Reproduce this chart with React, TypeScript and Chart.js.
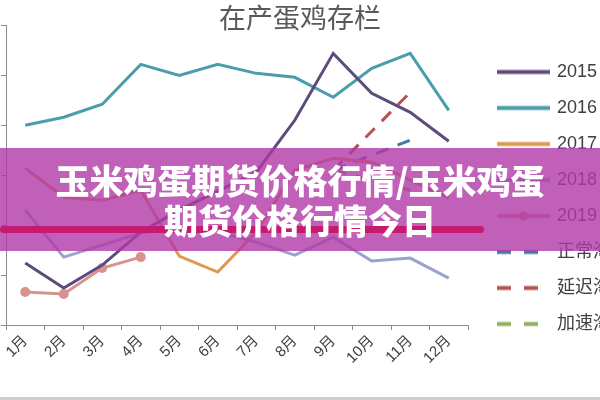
import { useEffect, useRef } from 'react';
import { Chart, registerables } from 'chart.js';

Chart.register(...registerables);

const chartTitle = '在产蛋鸡存栏';
const months = ['1月', '2月', '3月', '4月', '5月', '6月', '7月', '8月', '9月', '10月', '11月', '12月'];
const seriesNames = ['2015', '2016', '2017', '2018', '2019', '正常淘汰', '延迟淘汰', '加速淘汰'];
const values2015 = [1.24, 0.74, 1.2, 1.86, 2.3, 2.68, 3.06, 4.1, 5.44, 4.64, 4.26, 3.68];
const values2016 = [4.0, 4.16, 4.42, 5.22, 5.0, 5.22, 5.04, 4.96, 4.56, 5.14, 5.44, 4.3];
const values2017 = [3.14, 2.56, 2.5, 2.7, 1.38, 1.06, 1.86, 3.1, 3.34, 3.26, 2.9, 2.54];
const values2018 = [2.3, 1.36, 1.6, 1.84, 2.0, 1.86, 1.66, 1.4, 1.76, 1.28, 1.34, 0.94];
const values2019 = [0.66, 0.62, 1.14, 1.36, null, null, null, null, null, null, null, null];
const valuesNormal = [null, null, null, null, null, null, null, null, 3.1, 3.4, 3.7, null];
const valuesDelayed = [null, null, null, null, null, null, null, null, 3.1, 3.88, 4.66, null];
const valuesFaster = [null, null, null, null, null, null, null, null, 3.1, 2.9, 2.7, null];
const yMin = 0;
const yMax = 6;
const yStep = 1;
const bannerLines = ['玉米鸡蛋期货价格行情/玉米鸡蛋', '期货价格行情今日'];

const colors = ['#5e4a7d', '#4a9eac', '#e0974e', '#97a3cd', '#d8928f', '#4a75a5', '#b5524f', '#93b05c'];
const dashedFlags = [false, false, false, false, false, true, true, true];

const FONT = '"Liberation Sans", "Noto Sans CJK SC", sans-serif';
const CJK = '"Noto Sans CJK SC", sans-serif';

function makeSymbol(color: string, dashed: boolean, marker: boolean) {
  const c = document.createElement('canvas');
  c.width = 53;
  c.height = 11;
  const g = c.getContext('2d')!;
  g.strokeStyle = color;
  g.lineWidth = 4;
  if (dashed) g.setLineDash([14, 13]);
  g.beginPath();
  g.moveTo(0, 5.5);
  g.lineTo(53, 5.5);
  g.stroke();
  if (marker) {
    g.setLineDash([]);
    g.fillStyle = color;
    g.beginPath();
    g.arc(26.5, 5.5, 4.5, 0, Math.PI * 2);
    g.fill();
  }
  return c;
}

export default function App() {
  const ref = useRef<HTMLCanvasElement>(null);

  useEffect(() => {
    const seriesValues = [values2015, values2016, values2017, values2018, values2019, valuesNormal, valuesDelayed, valuesFaster];
    const symbols = seriesNames.map((_, i) => makeSymbol(colors[i], dashedFlags[i], i === 4));
    const datasets = seriesNames.map((name, i) => ({
      label: name,
      data: seriesValues[i],
      borderColor: colors[i],
      backgroundColor: colors[i],
      borderWidth: 3,
      borderDash: dashedFlags[i] ? [13, 10] : [],
      pointRadius: i === 4 ? 5 : 0,
      pointBackgroundColor: colors[i],
      pointBorderWidth: 0,
      tension: 0,
      fill: false,
      spanGaps: false,
    }));

    const chart = new Chart(ref.current!, {
      type: 'line',
      data: { labels: months, datasets },
      options: {
        responsive: false,
        animation: false,
        devicePixelRatio: 1,
        layout: { padding: { left: 0, right: 38, top: 0, bottom: 0 } },
        plugins: {
          title: {
            display: true,
            text: chartTitle,
            color: '#595959',
            font: { family: CJK, size: 27, weight: 'normal', lineHeight: 1.2 },
            padding: { top: 2, bottom: -9 },
          },
          legend: {
            position: 'right',
            align: 'start',
            maxWidth: 119,
            title: { display: true, text: ' ', font: { size: 10, lineHeight: 1.2 }, padding: 16.5 },
            labels: {
              usePointStyle: true,
              pointStyleWidth: 49,
              padding: 18,
              color: '#404040',
              font: { family: FONT, size: 18 },
              generateLabels: (ch: any) => {
                const items = (Chart.defaults.plugins.legend.labels as any).generateLabels(ch);
                return items.map((it: any, i: number) => ({ ...it, pointStyle: symbols[i] }));
              },
            },
          },
          tooltip: { enabled: false },
        },
        scales: {
          x: {
            type: 'category',
            offset: true,
            grid: { offset: true, drawOnChartArea: false, drawTicks: true, tickLength: 5, tickColor: '#8c8c8c' },
            border: { color: '#8c8c8c', width: 1 },
            ticks: { autoSkip: false, maxRotation: 45, minRotation: 45, color: '#404040', font: { family: FONT, size: 15 }, padding: 2 },
            afterFit: (s: any) => { s.height = 75; },
          },
          y: {
            position: 'left',
            min: yMin,
            max: yMax,
            ticks: { stepSize: yStep, display: false },
            grid: { drawOnChartArea: false, drawTicks: true, tickLength: 5, tickColor: '#8c8c8c' },
            border: { color: '#8c8c8c', width: 1 },
            afterFit: (s: any) => { s.width = 6; },
          },
          yR: {
            type: 'linear',
            position: 'right',
            display: true,
            grid: { display: false },
            border: { display: false },
            ticks: { display: false },
            afterFit: (s: any) => { s.width = 13; },
          },
        },
      } as any,
    });
    return () => chart.destroy();
  }, []);

  return (
    <div style={{ position: 'fixed', left: 0, top: 0, width: 600, height: 400, overflow: 'hidden', background: '#ffffff' }}>
      <canvas ref={ref} width={638} height={400} style={{ position: 'absolute', left: 0, top: 0 }} />
      <div style={{ position: 'absolute', left: 0, top: 148, width: 600, height: 103, background: 'rgba(176,56,166,0.8)' }} />
      <div style={{ position: 'absolute', left: 0, top: 226, width: 484, height: 7, borderRadius: 4, background: '#c51a6f' }} />
      {bannerLines.map((t, i) => (
        <div
          key={i}
          style={{
            position: 'absolute', left: 0, top: 160 + i * 40, width: 600, height: 40, lineHeight: '40px',
            textAlign: 'center', color: '#ffffff', fontFamily: CJK, fontWeight: 900, fontSize: 34, whiteSpace: 'nowrap',
          }}
        >
          {t}
        </div>
      ))}
      <div style={{ position: 'absolute', left: 0, top: 397, width: 600, height: 3, background: '#cfcfcf' }} />
    </div>
  );
}
